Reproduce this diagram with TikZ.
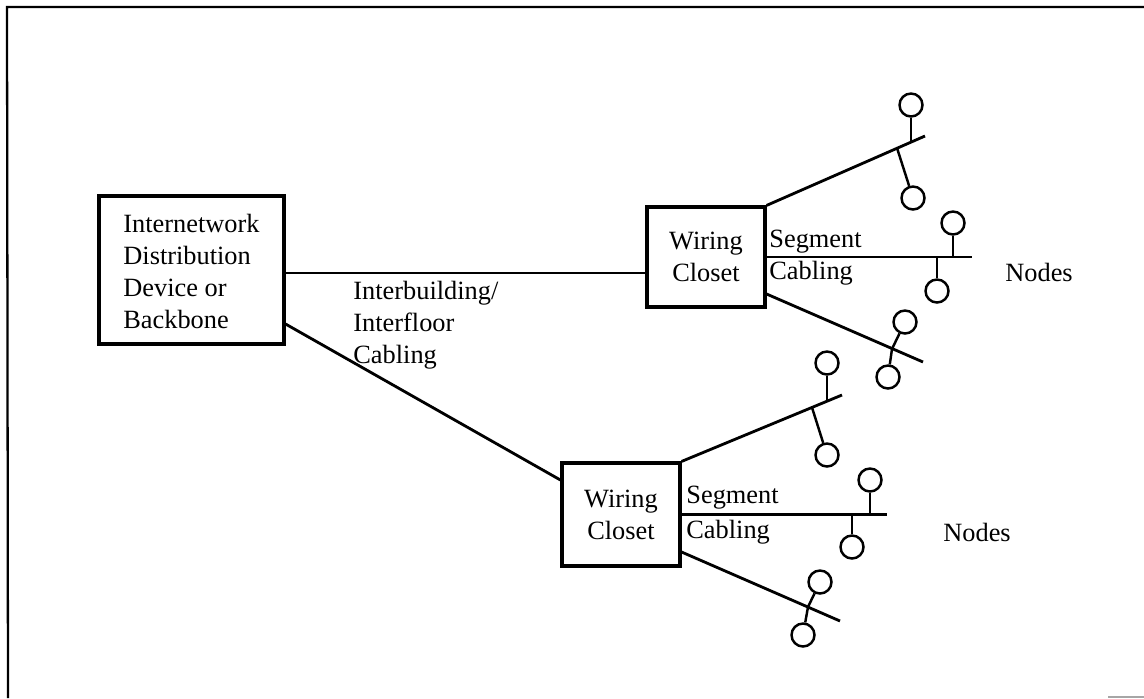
\documentclass[tikz,border=0pt]{standalone}
\usepackage{fontspec}
\setmainfont{Liberation Serif}
\begin{document}
\begin{tikzpicture}[x=0.02cm,y=-0.02cm,
  line width=1.6pt,
  lbl/.style={font=\fontsize{15}{18.2}\selectfont, inner sep=0pt, align=left},
  boxnode/.style={draw, line width=1.8pt, inner sep=0pt, align=center,
     font=\fontsize{15}{18.2}\selectfont},
  stn/.style={draw, circle, line width=1.4pt, inner sep=0pt, minimum size=0.46cm},
  stick/.style={line width=1.4pt}]
\useasboundingbox (0,0) rectangle (1144,698);
% frame
\coordinate (fa) at (7,7);
\coordinate (fb) at (1144,7);
\coordinate (fc) at (8,698);
\draw[line width=1.3pt] (fb) -- (fa) -- (fc);
\coordinate (ga) at (1108,697);
\coordinate (gb) at (1144,697);
\draw[gray!70, line width=1pt] (ga) -- (gb);

% main device
\node[boxnode, minimum width=3.70cm, minimum height=2.96cm] (idd) at (191.5,270) {};
\node[lbl, anchor=west] (iddtxt) at (122,271.5)
  {Internetwork\\Distribution\\Device or\\Backbone};

% wiring closets
\node[boxnode, minimum width=2.36cm, minimum height=2.00cm] (wc1) at (706,257) {Wiring\\Closet};
\node[boxnode, minimum width=2.36cm, minimum height=2.06cm] (wc2) at (621,514.5) {Wiring\\Closet};

% backbone cabling
\coordinate (hy) at (0,273);
\draw (idd.east |- hy) -- (wc1.west |- hy);
\coordinate (dy1) at (0,324);
\coordinate (dy2) at (0,480);
\draw (idd.east |- dy1) -- (wc2.west |- dy2);
\node[lbl, anchor=west] (ibl) at (352,325) {Interbuilding/\\Interfloor\\Cabling};

% ---- cluster 1 ----
\coordinate (u1e) at (925,136);
\coordinate (m1e) at (972,257);
\coordinate (l1s) at (765,294);
\coordinate (l1e) at (923,362);
\draw (wc1.north east) -- (u1e);
\draw (wc1.east) -- (m1e);
\draw (wc1.east |- l1s) -- (l1e);
\node[lbl, anchor=west] (seg1) at (768,242) {Segment};
\node[lbl, anchor=west] (cab1) at (768,273) {Cabling};
\node[lbl, anchor=west] (nod1) at (1004,272) {Nodes};

\node[stn] (a1) at (911,105) {};
\coordinate (pa1) at (911,142);
\draw[stick] (a1) -- (pa1);
\node[stn] (a2) at (913,198) {};
\coordinate (pa2) at (897,148);
\draw[stick] (a2) -- (pa2);
\node[stn] (a3) at (953,223) {};
\coordinate (pa3) at (953,257);
\draw[stick] (a3) -- (pa3);
\node[stn] (a4) at (937,291) {};
\coordinate (pa4) at (937,257);
\draw[stick] (a4) -- (pa4);
\node[stn] (a5) at (905,322) {};
\coordinate (pa5) at (892,349);
\draw[stick] (a5) -- (pa5);
\node[stn] (a6) at (888,377) {};
\draw[stick] (a6) -- (pa5);

% ---- cluster 2 ----
\coordinate (u2e) at (842,395);
\coordinate (m2e) at (887,514.5);
\coordinate (l2s) at (680,552);
\coordinate (l2e) at (840,621);
\draw (wc2.north east) -- (u2e);
\draw (wc2.east) -- (m2e);
\draw (wc2.east |- l2s) -- (l2e);
\node[lbl, anchor=west] (seg2) at (685,498) {Segment};
\node[lbl, anchor=west] (cab2) at (685,532) {Cabling};
\node[lbl, anchor=west] (nod2) at (942,532) {Nodes};

\node[stn] (b1) at (827,363) {};
\coordinate (pb1) at (827,401);
\draw[stick] (b1) -- (pb1);
\node[stn] (b2) at (827,455) {};
\coordinate (pb2) at (812,407.5);
\draw[stick] (b2) -- (pb2);
\node[stn] (b3) at (870,480) {};
\coordinate (pb3) at (870,514.5);
\draw[stick] (b3) -- (pb3);
\node[stn] (b4) at (852,547) {};
\coordinate (pb4) at (852,514.5);
\draw[stick] (b4) -- (pb4);
\node[stn] (b5) at (820,582) {};
\coordinate (pb5) at (808,607);
\draw[stick] (b5) -- (pb5);
\node[stn] (b6) at (803,635) {};
\draw[stick] (b6) -- (pb5);
\end{tikzpicture}
\end{document}
